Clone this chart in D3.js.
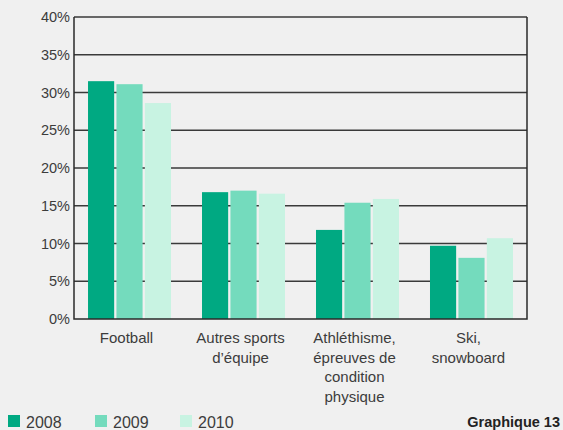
<!DOCTYPE html>
<html>
<head>
<meta charset="utf-8">
<script src="https://cdn.jsdelivr.net/npm/d3@7"></script>
<style>
  body { margin: 0; background: #f0f0f0; }
  svg { display: block; font-family: "Liberation Sans", Arial, sans-serif; }
</style>
</head>
<body>
<div id="chart"></div>
<script>
const categories = [
  ["Football"],
  ["Autres sports", "d’équipe"],
  ["Athléthisme,", "épreuves de", "condition", "physique"],
  ["Ski,", "snowboard"]
];
const years = ["2008", "2009", "2010"];
const values2008 = [31.5, 16.8, 11.8, 9.7];
const values2009 = [31.1, 17.0, 15.4, 8.1];
const values2010 = [28.6, 16.6, 15.9, 10.7];
const yTicks = [0, 5, 10, 15, 20, 25, 30, 35, 40];
const colors = ["#00a982", "#74dbbd", "#c8f3e2"];

const series = [values2008, values2009, values2010];
const width = 563, height = 430;
const plotLeft = 74, plotRight = 527, plotTop = 17, plotBottom = 319;

const svg = d3.select("#chart").append("svg")
  .attr("width", width)
  .attr("height", height);

const x0 = d3.scaleBand()
  .domain(d3.range(categories.length))
  .range([plotLeft, plotRight])
  .paddingInner(0.272)
  .paddingOuter(0.123);

const x1 = d3.scaleBand()
  .domain(d3.range(years.length))
  .range([0, x0.bandwidth()])
  .paddingInner(0.08);

const y = d3.scaleLinear()
  .domain([0, 40])
  .range([plotBottom, plotTop]);

// gridlines
svg.append("g")
  .selectAll("line")
  .data(yTicks.filter(d => d > 0))
  .enter()
  .append("line")
    .attr("x1", plotLeft)
    .attr("x2", plotRight)
    .attr("y1", d => y(d))
    .attr("y2", d => y(d))
    .attr("stroke", "#3a3a3a")
    .attr("stroke-width", 1.5);

// bars
const groups = svg.append("g")
  .selectAll("g")
  .data(categories)
  .enter()
  .append("g")
    .attr("transform", (d, i) => "translate(" + x0(i) + ",0)");

groups.selectAll("rect")
  .data((d, i) => series.map((s, k) => ({k: k, v: s[i]})))
  .enter()
  .append("rect")
    .attr("x", d => x1(d.k))
    .attr("y", d => y(d.v))
    .attr("width", x1.bandwidth())
    .attr("height", d => y(0) - y(d.v))
    .attr("fill", d => colors[d.k]);

// frame: left axis, bottom, right border
svg.append("path")
  .attr("d", "M" + plotLeft + "," + plotTop + "V" + plotBottom + "H" + plotRight + "V" + plotTop)
  .attr("fill", "none")
  .attr("stroke", "#2a2a2a")
  .attr("stroke-width", 1.5);

// y tick labels
svg.append("g")
  .selectAll("text")
  .data(yTicks)
  .enter()
  .append("text")
    .attr("x", plotLeft - 4)
    .attr("y", d => y(d))
    .attr("dy", "0.36em")
    .attr("text-anchor", "end")
    .attr("fill", "#3c3c3c")
    .style("font-size", "14.5px")
    .text(d => d + "%");

// category labels
const catLabels = svg.append("g")
  .selectAll("text")
  .data(categories)
  .enter()
  .append("text")
    .attr("text-anchor", "middle")
    .attr("fill", "#3c3c3c")
    .style("font-size", "15px");

catLabels.selectAll("tspan")
  .data((d, i) => d.map(line => ({line: line, i: i})))
  .enter()
  .append("tspan")
    .attr("x", d => x0(d.i) + x0.bandwidth() / 2 - 3)
    .attr("y", (d, j) => 343 + j * 19.5)
    .text(d => d.line);

// legend
const legendX = [8, 95, 180];
const legend = svg.append("g")
  .selectAll("g")
  .data(years)
  .enter()
  .append("g")
    .attr("transform", (d, i) => "translate(" + legendX[i] + ",415)");

legend.append("rect")
  .attr("width", 12)
  .attr("height", 12)
  .attr("fill", (d, i) => colors[i]);

legend.append("text")
  .attr("x", 18)
  .attr("y", 12.5)
  .attr("fill", "#3c3c3c")
  .style("font-size", "16px")
  .text(d => d);

svg.append("text")
  .attr("x", 560)
  .attr("y", 427)
  .attr("text-anchor", "end")
  .attr("fill", "#222")
  .style("font-size", "14.5px")
  .style("font-weight", "bold")
  .text("Graphique 13");
</script>
</body>
</html>
